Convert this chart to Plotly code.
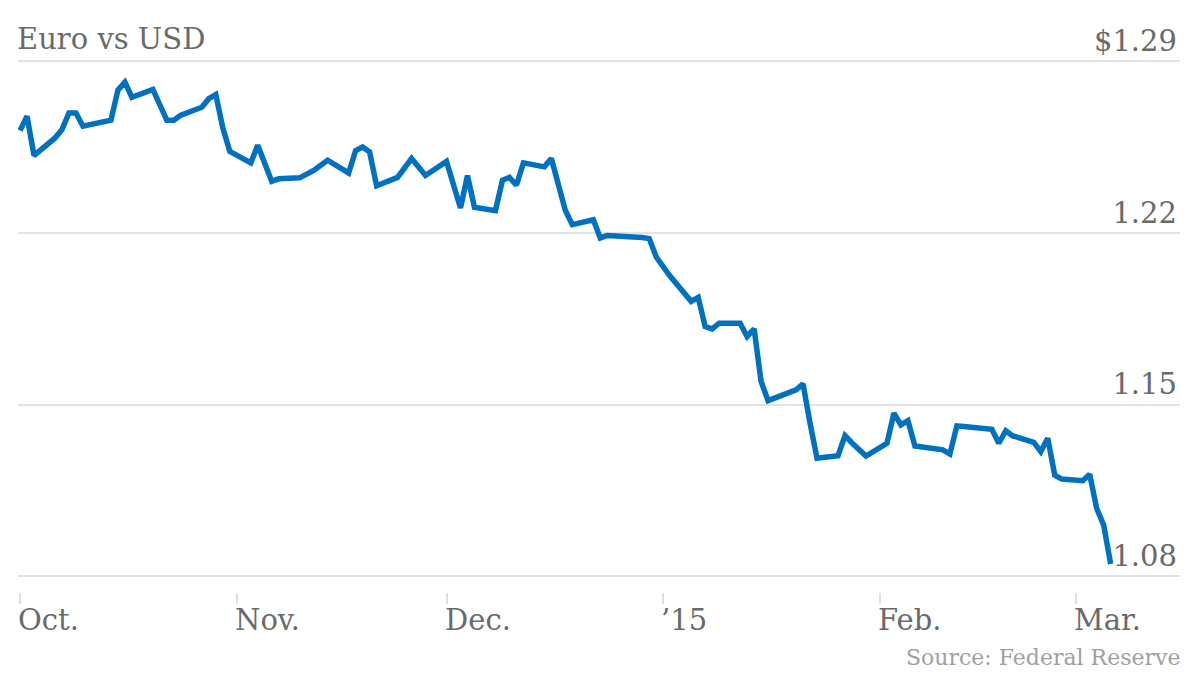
import plotly.graph_objects as go

# Курс евро к доллару (точки излома линии)
dates = [
    "2014-10-01", "2014-10-02", "2014-10-03", "2014-10-06", "2014-10-07", "2014-10-08", "2014-10-09", "2014-10-10",
    "2014-10-14", "2014-10-15", "2014-10-16", "2014-10-17", "2014-10-20", "2014-10-21", "2014-10-22", "2014-10-23",
    "2014-10-24", "2014-10-27", "2014-10-28", "2014-10-29", "2014-10-30", "2014-10-31",
    "2014-11-03", "2014-11-04", "2014-11-05", "2014-11-06", "2014-11-07", "2014-11-10", "2014-11-12", "2014-11-14",
    "2014-11-17", "2014-11-18", "2014-11-19", "2014-11-20", "2014-11-21", "2014-11-24", "2014-11-26", "2014-11-28",
    "2014-12-01", "2014-12-03", "2014-12-04", "2014-12-05", "2014-12-08", "2014-12-09", "2014-12-10", "2014-12-11",
    "2014-12-12", "2014-12-15", "2014-12-16", "2014-12-17", "2014-12-18", "2014-12-19", "2014-12-22", "2014-12-23",
    "2014-12-24", "2014-12-29", "2014-12-30", "2014-12-31",
    "2015-01-02", "2015-01-05", "2015-01-06", "2015-01-07", "2015-01-08", "2015-01-09", "2015-01-12", "2015-01-13",
    "2015-01-14", "2015-01-15", "2015-01-16", "2015-01-20", "2015-01-21", "2015-01-22", "2015-01-23", "2015-01-26",
    "2015-01-27", "2015-01-28", "2015-01-29", "2015-01-30",
    "2015-02-02", "2015-02-03", "2015-02-04", "2015-02-05", "2015-02-06", "2015-02-10", "2015-02-11", "2015-02-12",
    "2015-02-13", "2015-02-17", "2015-02-18", "2015-02-19", "2015-02-20", "2015-02-23", "2015-02-24", "2015-02-25",
    "2015-02-26", "2015-02-27",
    "2015-03-02", "2015-03-03", "2015-03-04", "2015-03-05", "2015-03-06",
]
eur_usd = [
    1.2618, 1.2677, 1.2516, 1.2588, 1.2622, 1.2690, 1.2690, 1.2636,
    1.2660, 1.2783, 1.2815, 1.2754, 1.2786, 1.2721, 1.2660, 1.2660,
    1.2681, 1.2713, 1.2748, 1.2765, 1.2629, 1.2533,
    1.2486, 1.2558, 1.2486, 1.2411, 1.2421, 1.2425, 1.2455, 1.2497,
    1.2445, 1.2536, 1.2551, 1.2531, 1.2393, 1.2427, 1.2504, 1.2435,
    1.2492, 1.2302, 1.2434, 1.2305, 1.2291, 1.2415, 1.2427, 1.2395,
    1.2486, 1.2470, 1.2504, 1.2390, 1.2292, 1.2234, 1.2254, 1.2180,
    1.2190, 1.2182, 1.2177, 1.2102,
    1.2023, 1.1921, 1.1937, 1.1818, 1.1809, 1.1832, 1.1832, 1.1778,
    1.1809, 1.1594, 1.1516, 1.1560, 1.1584, 1.1424, 1.1281, 1.1291,
    1.1373, 1.1343, 1.1315, 1.1290,
    1.1342, 1.1465, 1.1417, 1.1434, 1.1331, 1.1315, 1.1298, 1.1413,
    1.1410, 1.1399, 1.1342, 1.1393, 1.1372, 1.1346, 1.1308, 1.1362,
    1.1212, 1.1196,
    1.1189, 1.1215, 1.1076, 1.1008, 1.0849,
]

# Подписи осей
month_ticks = ["2014-10-01", "2014-11-01", "2014-12-01", "2015-01-01", "2015-02-01", "2015-03-01"]
month_labels = ["Oct.", "Nov.", "Dec.", "\u201915", "Feb.", "Mar."]
y_ticks = [1.08, 1.15, 1.22, 1.29]
y_labels = ["1.08", "1.15", "1.22", "$1.29"]

FONT = "DejaVu Serif"
TEXT_COLOR = "#6a6a6a"

# Страница добавляет отступ 8px слева и сверху, поэтому фигура чуть меньше окна
W, H = 1192, 668

fig = go.Figure()
fig.add_trace(go.Scatter(
    x=dates, y=eur_usd, mode="lines",
    line=dict(color="#0070c0", width=5.5, shape="linear"),
    showlegend=False, hoverinfo="x+y",
))

fig.update_xaxes(
    type="date", automargin=False,
    range=["2014-09-30 17:00", "2015-03-15 22:00"],
    tickvals=month_ticks, showticklabels=False,
    ticks="outside", ticklen=11, tickwidth=2, tickcolor="#e0e0e0",
    showgrid=False, zeroline=False, showline=False,
)
fig.update_yaxes(
    range=[1.0735, 1.2906], side="right", automargin=False,
    tickvals=y_ticks, ticktext=y_labels,
    ticklabelposition="inside top", ticklabeloverflow="allow",
    tickfont=dict(family=FONT, size=29, color=TEXT_COLOR),
    showgrid=True, gridcolor="#e3e3e3", gridwidth=2,
    ticks="", zeroline=False, showline=False,
)

# Подписи месяцев выровнены по левому краю от засечки
for tick, label in zip(month_ticks, month_labels):
    fig.add_annotation(
        x=tick, xref="x", y=0, yref="paper", text=label,
        xanchor="left", yanchor="top", yshift=-9, xshift=-4,
        showarrow=False, font=dict(family=FONT, size=29, color=TEXT_COLOR),
    )

fig.add_annotation(
    x=1, xref="paper", y=0, yref="paper", yshift=-51, xshift=2,
    text="Source: Federal Reserve", xanchor="right", yanchor="top",
    showarrow=False, font=dict(family=FONT, size=22, color="#a0a0a0"),
)

fig.update_layout(
    width=W, height=H,
    margin=dict(l=10, r=20, t=52, b=84),
    paper_bgcolor="white", plot_bgcolor="white",
    title=dict(text="Euro vs USD", x=9 / W, xanchor="left", y=1 - 21 / H, yanchor="top",
               font=dict(family=FONT, size=29, color=TEXT_COLOR)),
)

fig.write_html("out.html")
